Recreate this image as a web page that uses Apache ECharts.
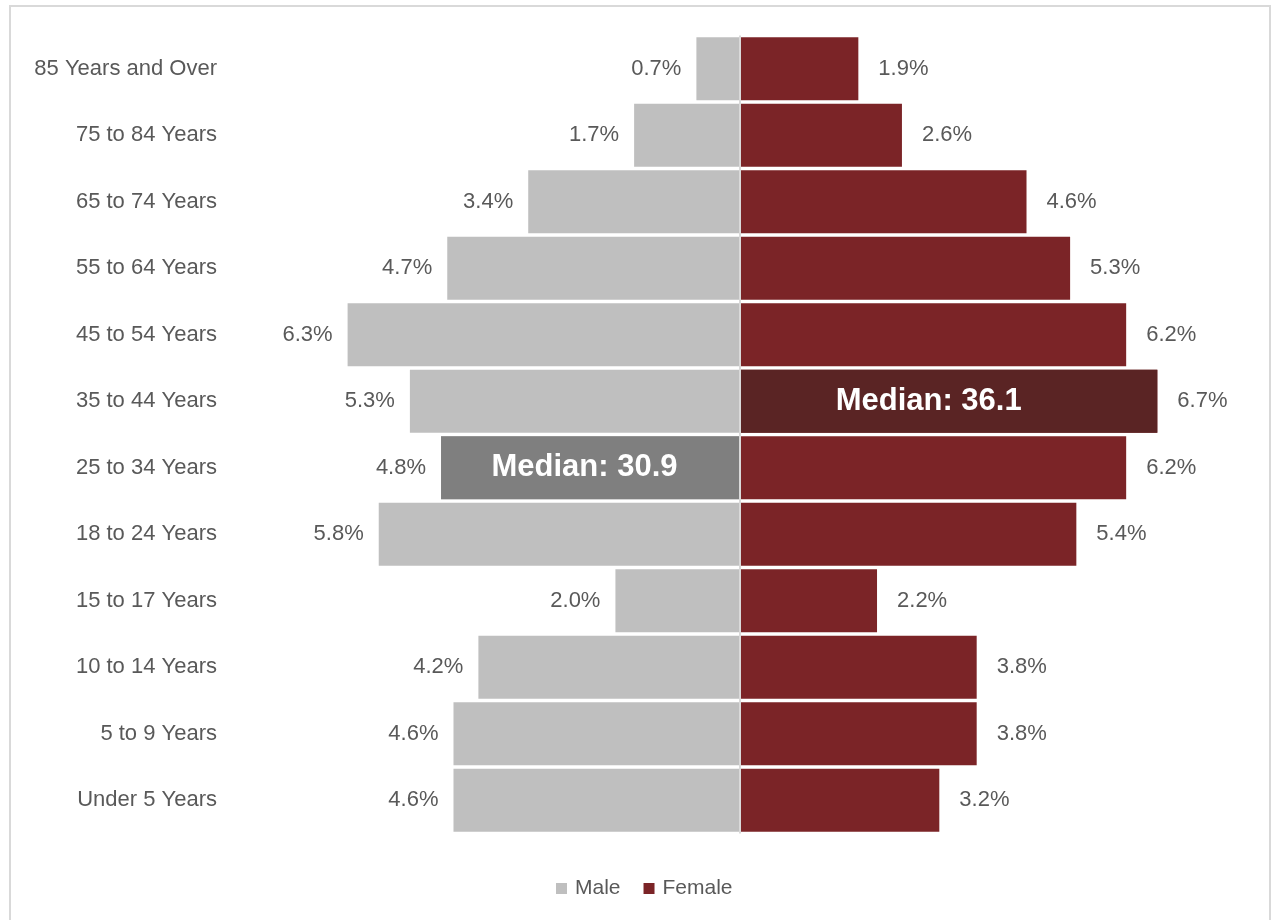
<!DOCTYPE html>
<html>
<head>
<meta charset="utf-8">
<title>Population by Age and Sex</title>
<script src="https://cdn.jsdelivr.net/npm/echarts@6/dist/echarts.min.js"></script>
<style>
  html, body { margin: 0; padding: 0; background: #ffffff; }
  #chart { width: 1278px; height: 920px; }
</style>
</head>
<body>
<div id="chart"></div>
<script>
// Age groups, youngest first (drawn bottom to top)
const ageGroups = [
  'Under 5 Years', '5 to 9 Years', '10 to 14 Years', '15 to 17 Years',
  '18 to 24 Years', '25 to 34 Years', '35 to 44 Years', '45 to 54 Years',
  '55 to 64 Years', '65 to 74 Years', '75 to 84 Years', '85 Years and Over'
];

// Share of total population, percent
const malePct   = [4.6, 4.6, 4.2, 2.0, 5.8, 4.8, 5.3, 6.3, 4.7, 3.4, 1.7, 0.7];
const femalePct = [3.2, 3.8, 3.8, 2.2, 5.4, 6.2, 6.7, 6.2, 5.3, 4.6, 2.6, 1.9];

// Median ages and the age group each one falls in
const maleMedianAge = 30.9;
const femaleMedianAge = 36.1;
const maleMedianGroup = '25 to 34 Years';
const femaleMedianGroup = '35 to 44 Years';

const textColor = '#595959';
const fontFamily = '"Liberation Sans", Arial, sans-serif';

const maleValues = malePct.map(v => -v);
const maleMedianValues = ageGroups.map((g, i) => g === maleMedianGroup ? -malePct[i] : '-');
const femaleMedianValues = ageGroups.map((g, i) => g === femaleMedianGroup ? femalePct[i] : '-');

const pctLabel = p => Math.abs(p.value).toFixed(1) + '%';

const chart = echarts.init(document.getElementById('chart'), null, { renderer: 'canvas' });

chart.setOption({
  animation: false,
  backgroundColor: '#ffffff',
  textStyle: { fontFamily: fontFamily },
  graphic: [{
    type: 'rect',
    shape: { x: 10, y: 6, width: 1260, height: 960 },
    style: { fill: 'none', stroke: '#d9d9d9', lineWidth: 2 },
    silent: true,
    z: -10
  }],
  legend: {
    data: ['Male', 'Female'],
    left: 551,
    top: 873,
    icon: 'rect',
    itemWidth: 11,
    itemHeight: 11,
    itemGap: 23,
    textStyle: { color: textColor, fontSize: 21, fontFamily: fontFamily, padding: [0, 0, 0, 3] }
  },
  grid: {
    left: 304,
    right: 102,
    top: 35.5,
    bottom: 86.5,
    containLabel: false
  },
  xAxis: {
    type: 'value',
    min: -7,
    max: 7,
    show: false
  },
  yAxis: {
    type: 'category',
    data: ageGroups,
    axisLine: { show: false },
    axisTick: { show: false },
    axisLabel: {
      color: textColor,
      fontSize: 22,
      fontFamily: fontFamily,
      margin: 87
    }
  },
  series: [
    {
      name: 'Male',
      type: 'bar',
      data: maleValues,
      barGap: '-100%',
      barCategoryGap: '5%',
      itemStyle: { color: '#bfbfbf' },
      label: {
        show: true,
        position: 'left',
        distance: 15,
        color: textColor,
        fontSize: 22,
        fontFamily: fontFamily,
        formatter: pctLabel
      },
      markLine: {
        silent: true,
        symbol: 'none',
        label: { show: false },
        lineStyle: { color: '#d9d9d9', width: 2, type: 'solid' },
        data: [{ xAxis: 0 }],
        z: 10
      }
    },
    {
      name: 'Female',
      type: 'bar',
      data: femalePct,
      barGap: '-100%',
      barCategoryGap: '5%',
      itemStyle: { color: '#7b2427' },
      label: {
        show: true,
        position: 'right',
        distance: 20,
        color: textColor,
        fontSize: 22,
        fontFamily: fontFamily,
        formatter: pctLabel
      }
    },
    {
      name: 'Male median',
      type: 'bar',
      data: maleMedianValues,
      barGap: '-100%',
      barCategoryGap: '5%',
      itemStyle: { color: '#7f7f7f' },
      label: {
        show: true,
        position: 'inside',
        offset: [-6, 0],
        color: '#ffffff',
        fontSize: 31,
        fontWeight: 'bold',
        fontFamily: fontFamily,
        formatter: () => 'Median: ' + maleMedianAge.toFixed(1)
      }
    },
    {
      name: 'Female median',
      type: 'bar',
      data: femaleMedianValues,
      barGap: '-100%',
      barCategoryGap: '5%',
      itemStyle: { color: '#5a2424' },
      label: {
        show: true,
        position: 'inside',
        offset: [-20, 0],
        color: '#ffffff',
        fontSize: 31,
        fontWeight: 'bold',
        fontFamily: fontFamily,
        formatter: () => 'Median: ' + femaleMedianAge.toFixed(1)
      }
    }
  ]
});
</script>
</body>
</html>
